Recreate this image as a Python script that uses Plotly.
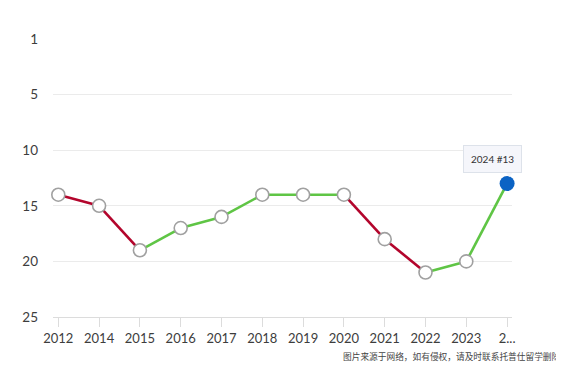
import plotly.graph_objects as go

years = ["2012", "2014", "2015", "2016", "2017", "2018", "2019", "2020", "2021", "2022", "2023", "2024"]
ranks = [14, 15, 19, 17, 16, 14, 14, 14, 18, 21, 20, 13]
x_tick_text = ["2012", "2014", "2015", "2016", "2017", "2018", "2019", "2020", "2021", "2022", "2023", "2..."]
y_tick_vals = [0, 5, 10, 15, 20, 25]
y_tick_text = ["1", "5", "10", "15", "20", "25"]

RED = "#b3052c"
GREEN = "#5fc545"

fig = go.Figure()
for i in range(len(years) - 1):
    color = RED if ranks[i + 1] > ranks[i] else GREEN
    fig.add_trace(go.Scatter(
        x=years[i:i + 2], y=ranks[i:i + 2], mode="lines",
        line=dict(color=color, width=2.6), hoverinfo="skip", showlegend=False,
    ))

fig.add_trace(go.Scatter(
    x=years[:-1], y=ranks[:-1], mode="markers",
    marker=dict(size=13, color="white", line=dict(color="#a0a0a0", width=1.6)),
    showlegend=False, cliponaxis=False,
))
fig.add_trace(go.Scatter(
    x=years[-1:], y=ranks[-1:], mode="markers",
    marker=dict(size=15, color="#0b63c4", line=dict(color="#0b63c4", width=0)),
    showlegend=False, cliponaxis=False,
))

# tooltip box (paper coords, anchored near the last point)
fig.add_annotation(
    x=0.957, y=0.568, xref="paper", yref="paper",
    xanchor="center", yanchor="middle",
    text=f"{years[-1]} #{ranks[-1]}", showarrow=False,
    font=dict(family="Lato, Open Sans, sans-serif", size=10, color="#333333"),
    bgcolor="#f5f6fb", bordercolor="#dde2ea", borderwidth=1, borderpad=7,
)
# tooltip pointer (paper coords)
fig.add_shape(
    type="path", xref="paper", yref="paper",
    path="M 0.9854,0.5215 L 1.0028,0.5215 L 0.9941,0.5036 Z",
    fillcolor="#f5f6fb", line=dict(width=0), layer="above",
)

fig.add_annotation(
    x=0.628, y=-0.142, xref="paper", yref="paper", xanchor="left", yanchor="middle",
    text="图片来源于网络，如有侵权，请及时联系托普仕留学删除", showarrow=False,
    font=dict(family="Noto Sans CJK SC", size=8.7, color="#444444"),
)

fig.update_layout(
    width=556, height=360,
    margin=dict(l=45, r=52, t=31, b=51),
    paper_bgcolor="white", plot_bgcolor="white",
    font=dict(family="Lato, Open Sans, sans-serif", color="#3d3d3d"),
    hovermode=False,
)
fig.update_xaxes(
    type="category", range=[-0.13, 11.12],
    tickmode="array", tickvals=years, ticktext=x_tick_text,
    showgrid=False, showline=True, linecolor="#dcdcdc", linewidth=1,
    ticks="outside", ticklen=9, tickcolor="#dcdcdc",
    tickfont=dict(size=13, color="#3d3d3d"), zeroline=False,
)
fig.update_yaxes(
    range=[25, 0], tickmode="array", tickvals=y_tick_vals, ticktext=y_tick_text,
    showgrid=True, gridcolor="#ebebeb", gridwidth=1, zeroline=False,
    showline=False, ticks="", ticklabelstandoff=14,
    tickfont=dict(size=13.5, color="#3d3d3d"),
)

fig.write_html("out.html")
